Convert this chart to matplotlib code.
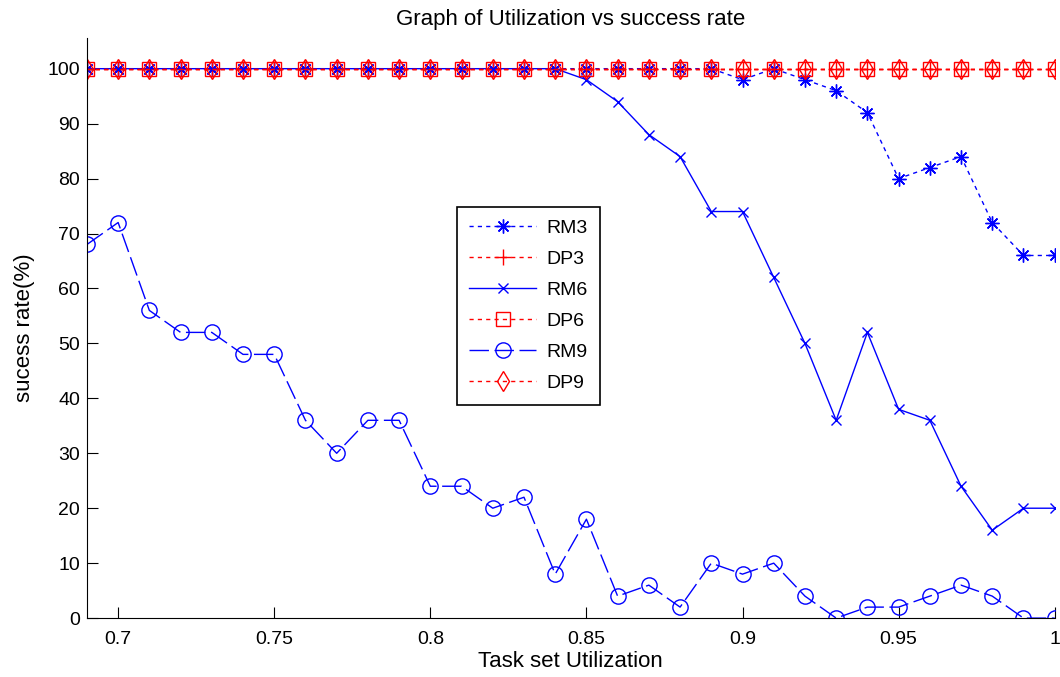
import numpy as np
import matplotlib
matplotlib.use("Agg")
import matplotlib.pyplot as plt

plt.rcParams['font.family'] = ['Liberation Sans', 'DejaVu Sans']

util = [0.69, 0.70, 0.71, 0.72, 0.73, 0.74, 0.75, 0.76, 0.77, 0.78, 0.79,
        0.80, 0.81, 0.82, 0.83, 0.84, 0.85, 0.86, 0.87, 0.88, 0.89,
        0.90, 0.91, 0.92, 0.93, 0.94, 0.95, 0.96, 0.97, 0.98, 0.99, 1.00]

rm3 = [100]*21 + [98, 100, 98, 96, 92, 80, 82, 84, 72, 66, 66]
dp3 = [100]*32
rm6 = [100]*16 + [98, 94, 88, 84, 74, 74, 62, 50, 36, 52, 38, 36, 24, 16, 20, 20]
dp6 = [100]*32
rm9 = [68, 72, 56, 52, 52, 48, 48, 36, 30, 36, 36, 24, 24, 20, 22, 8,
       18, 4, 6, 2, 10, 8, 10, 4, 0, 2, 2, 4, 6, 4, 0, 0]
dp9 = [100]*32

blue = (0, 0, 1)
red = (1, 0, 0)

fig = plt.figure(figsize=(10.6, 6.77), dpi=100)
ax = fig.add_axes([0.082, 0.087, 0.913, 0.857])

ax.plot(util, rm3, ls=(0, (3, 3)), marker=(8, 2, 0), ms=10, color=blue, lw=1, label="RM3")
ax.plot(util, dp3, ls=(0, (3, 3)), marker="+", ms=12, color=red, lw=1, label="DP3")
ax.plot(util, rm6, ls="-", marker="x", ms=7, color=blue, lw=1, label="RM6")
ax.plot(util, dp6, ls=(0, (3, 3)), marker="s", ms=10, mfc="none", color=red, lw=1, label="DP6")
ax.plot(util, rm9, ls=(0, (14, 4)), marker="o", ms=11, mfc="none", color=blue, lw=1, label="RM9")
ax.plot(util, dp9, ls=(0, (3, 3)), marker="d", ms=10, mfc="none", color=red, lw=1, label="DP9")

ax.set_xlim(0.69, 1.0)
ax.set_ylim(0, 105.6)
ax.set_xticks([0.7, 0.75, 0.8, 0.85, 0.9, 0.95, 1.0])
ax.set_xticklabels(["0.7", "0.75", "0.8", "0.85", "0.9", "0.95", "1"])
ax.set_yticks(np.arange(0, 101, 10))
ax.tick_params(direction="in", length=8, labelsize=14)
ax.tick_params(axis="x", pad=9.5)
ax.tick_params(axis="y", pad=5)
ax.spines["top"].set_visible(False)
ax.spines["right"].set_visible(False)

ax.set_title("Graph of Utilization vs success rate", fontsize=16, pad=9)
ax.set_xlabel("Task set Utilization", fontsize=16, labelpad=2)
ax.set_ylabel("sucess rate(%)", fontsize=16, labelpad=9)

leg = ax.legend(loc="upper left", bbox_to_anchor=(0.382, 0.709), fontsize=14,
                fancybox=False, edgecolor="black", framealpha=1, borderaxespad=0,
                handlelength=3.45, handletextpad=0.5, labelspacing=0.69, borderpad=0.65)
leg.get_frame().set_linewidth(1.2)

fig.savefig("out.png", dpi=100)
